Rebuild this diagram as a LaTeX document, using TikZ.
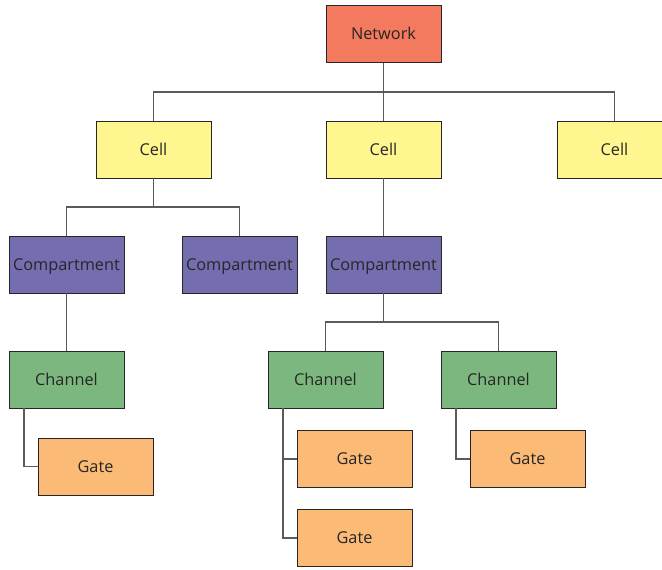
\documentclass[tikz,border=0pt]{standalone}
\usepackage{fontspec}
\setmainfont{Open Sans}
\definecolor{netcol}{HTML}{F37A5E}
\definecolor{cellcol}{HTML}{FFF68F}
\definecolor{compcol}{HTML}{746EB0}
\definecolor{chancol}{HTML}{7BB77F}
\definecolor{gatecol}{HTML}{FBBB77}
\definecolor{linkcol}{HTML}{5A5A5A}
\tikzset{
  box/.style={draw=black!85, line width=0.9pt, minimum width=115pt, minimum height=57pt,
    inner sep=0pt, text height=11.6pt, text depth=0pt,
    font=\fontsize{16.3}{18}\selectfont, text=black!85},
  netbox/.style={box, fill=netcol},
  cellbox/.style={box, fill=cellcol},
  compbox/.style={box, fill=compcol},
  chanbox/.style={box, fill=chancol},
  gatebox/.style={box, fill=gatecol},
  link/.style={draw=linkcol, line width=1.1pt}
}
\begin{document}
\begin{tikzpicture}[x=1pt, y=-1pt]
\useasboundingbox (0,0) rectangle (662,570);
\clip (0,0) rectangle (662,570);
% tree nodes
\node[netbox]  (net) at (383.5,34) {Network};
\node[cellbox] (c1) at (153.5,149.5) {Cell};
\node[cellbox] (c2) at (383.5,149.5) {Cell};
\node[cellbox] (c3) at (614.5,149.5) {Cell};
\node[compbox] (p1) at (66.5,264.5) {Compartment};
\node[compbox] (p2) at (239.5,264.5) {Compartment};
\node[compbox] (p3) at (383.5,264.5) {Compartment};
\node[chanbox] (h1) at (66.5,379.5) {Channel};
\node[chanbox] (h2) at (325.5,379.5) {Channel};
\node[chanbox] (h3) at (498.5,379.5) {Channel};
\node[gatebox] (g1) at (95.5,466.5) {Gate};
\node[gatebox] (g2) at (354.5,459) {Gate};
\node[gatebox] (g3) at (354.5,538) {Gate};
\node[gatebox] (g4) at (527.5,459) {Gate};
% junction points
\coordinate (jn) at (383.5,92);
\coordinate (j1) at (153.5,207);
\coordinate (j3) at (383.5,322);
% network to cells
\draw[link] (net.south) -- (jn);
\draw[link] (c1.north) |- (jn) -| (c3.north);
\draw[link] (jn) -- (c2.north);
% cells to compartments
\draw[link] (c1.south) -- (j1);
\draw[link] (p1.north) |- (j1) -| (p2.north);
\draw[link] (c2.south) -- (p3.north);
% compartments to channels
\draw[link] (p1.south) -- (h1.north);
\draw[link] (p3.south) -- (j3);
\draw[link] (h2.north) |- (j3) -| (h3.north);
% channels to gates
\draw[link] ([xshift=-42.5pt]h1.south) |- (g1.west);
\draw[link] ([xshift=-42.5pt]h2.south) |- (g3.west);
\draw[link] ([xshift=-42.5pt]h2.south) |- (g2.west);
\draw[link] ([xshift=-42.5pt]h3.south) |- (g4.west);
\end{tikzpicture}
\end{document}
